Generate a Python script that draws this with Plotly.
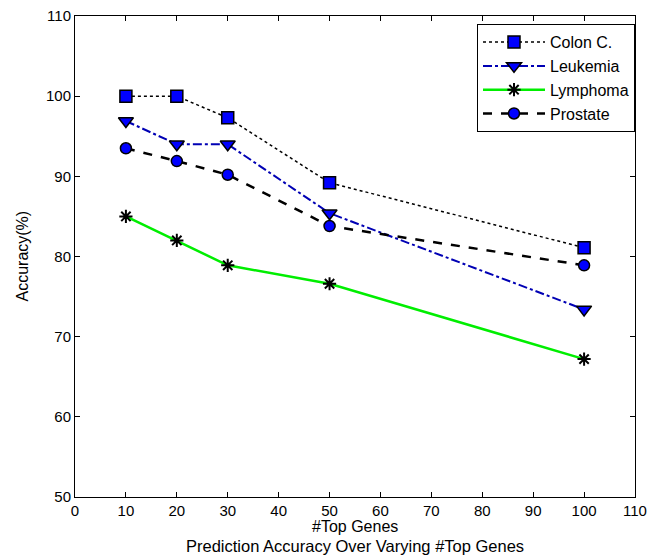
import plotly.graph_objects as go

top_genes = [10, 20, 30, 50, 100]
colon = [100, 100, 97.3, 89.2, 81.1]
leukemia = [96.9, 94.0, 94.0, 85.4, 73.4]
lymphoma = [85.0, 82.0, 78.9, 76.6, 67.2]
prostate = [93.5, 91.9, 90.2, 83.8, 78.9]

x_ticks = list(range(0, 111, 10))
y_ticks = list(range(50, 111, 10))

FONT = "Liberation Sans Narrow, Liberation Sans, Arial, sans-serif"

fig = go.Figure()
fig.add_trace(go.Scatter(
    x=top_genes, y=colon, name="Colon C.", mode="lines+markers",
    line=dict(color="black", width=1.5, dash="dot"),
    marker=dict(symbol="square", size=12, color="#0000ff", line=dict(color="black", width=1.5)),
))
fig.add_trace(go.Scatter(
    x=top_genes, y=leukemia, name="Leukemia", mode="lines+markers",
    line=dict(color="#0000b4", width=2, dash="dashdot"),
    marker=dict(symbol="triangle-down", size=13, color="#0000ff", line=dict(color="black", width=1.5)),
))
fig.add_trace(go.Scatter(
    x=top_genes, y=lymphoma, name="Lymphoma", mode="lines+markers",
    line=dict(color="#00ee00", width=2.5),
    marker=dict(symbol="asterisk-open", size=11, color="black", line=dict(color="black", width=2)),
))
fig.add_trace(go.Scatter(
    x=top_genes, y=prostate, name="Prostate", mode="lines+markers",
    line=dict(color="black", width=2.5, dash="dash"),
    marker=dict(symbol="circle", size=11, color="#0000ff", line=dict(color="black", width=1.5)),
))

fig.update_layout(
    width=666, height=556,
    margin=dict(l=75, r=31, t=16, b=59, autoexpand=False),
    paper_bgcolor="white", plot_bgcolor="white",
    font=dict(family=FONT, size=16, color="black"),
    showlegend=True,
    legend=dict(
        x=1.0, y=0.983, xanchor="right", yanchor="top",
        bgcolor="white", bordercolor="black", borderwidth=1,
        font=dict(family=FONT, size=16, color="black"),
        tracegroupgap=0, itemwidth=62,
    ),
    xaxis=dict(
        range=[0, 110], tickvals=x_ticks, ticktext=[str(v) for v in x_ticks],
        showgrid=False, zeroline=False, showline=True, linecolor="black", linewidth=1,
        mirror="ticks", ticks="inside", ticklen=5, tickcolor="black",
        automargin=False, tickfont=dict(family=FONT, size=15),
    ),
    yaxis=dict(
        range=[50, 110], tickvals=y_ticks, ticktext=[str(v) for v in y_ticks],
        showgrid=False, zeroline=False, showline=True, linecolor="black", linewidth=1,
        mirror="ticks", ticks="inside", ticklen=5, tickcolor="black",
        automargin=False, tickfont=dict(family=FONT, size=15),
    ),
)

fig.add_annotation(
    text="#Top Genes",
    xref="paper", yref="paper", x=0.5, y=0, yshift=-29, xanchor="center", yanchor="middle",
    showarrow=False, font=dict(family=FONT, size=16, color="black"),
)
fig.add_annotation(
    text="Prediction Accuracy Over Varying #Top Genes",
    xref="paper", yref="paper", x=0.5, y=0, yshift=-49, xanchor="center", yanchor="middle",
    showarrow=False, font=dict(family=FONT, size=16.5, color="black"),
)
fig.add_annotation(
    text="Accuracy(%)", textangle=-90,
    xref="paper", yref="paper", x=0, y=0.5, xshift=-53, xanchor="center", yanchor="middle",
    showarrow=False, font=dict(family=FONT, size=16, color="black"),
)

# remove the browser's default 8px body margin so the figure sits at the page origin
fig.write_html("out.html", config={"displayModeBar": False},
               post_script="document.body.style.margin='0px';")
